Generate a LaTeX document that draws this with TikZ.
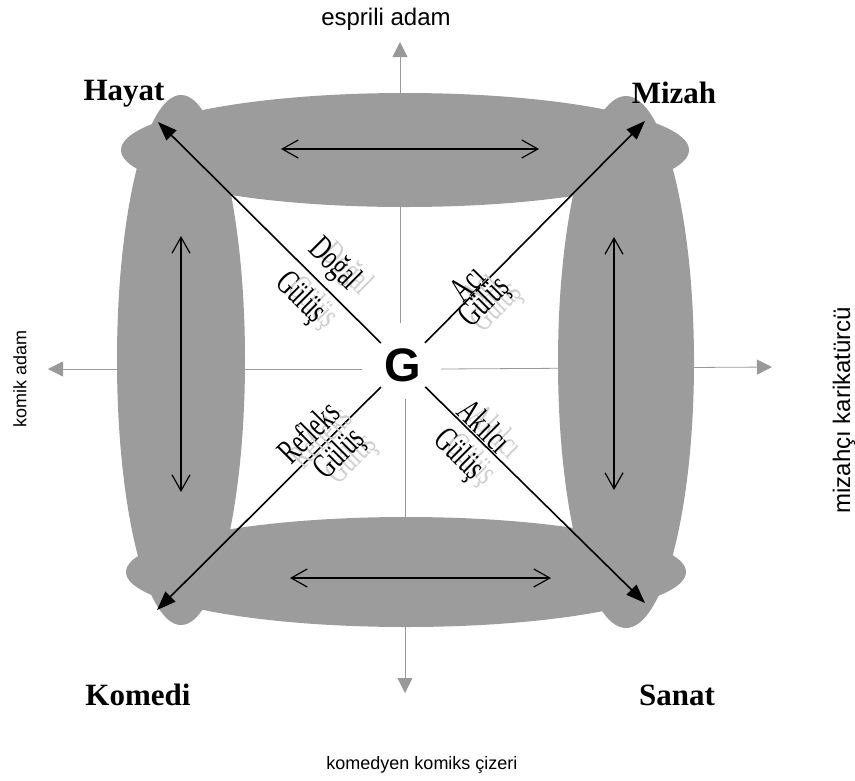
\documentclass[tikz,border=0pt]{standalone}
\usepackage{fontspec}
\usepackage{graphicx}
\setmainfont{Liberation Serif}
\setsansfont{Liberation Sans}
\usetikzlibrary{arrows.meta}
\definecolor{ellgray}{HTML}{9C9C9C}
\definecolor{axgray}{HTML}{999999}
\newcommand{\dlab}[1]{\scalebox{0.9}[1.35]{#1}}
\begin{document}
\begin{tikzpicture}[x=1pt,y=-1pt,
  blob/.style={fill=ellgray},
  axisline/.style={draw=axgray, line width=0.8pt, -{Triangle[length=15pt,width=15pt]}},
  diag/.style={line width=1.6pt, -{Triangle[length=19pt,width=14pt]}},
  dbl/.style={line width=1.2pt, {Straight Barb[length=16pt,width=18pt]}-{Straight Barb[length=16pt,width=18pt]}},
  axlabel/.style={font=\sffamily\fontsize{18}{18}\selectfont, inner sep=0pt},
  biglabel/.style={font=\sffamily\fontsize{24}{24}\selectfont, inner sep=0pt},
  corner/.style={font=\bfseries\fontsize{31}{31}\selectfont, inner sep=0pt},
  dtext/.style={font=\fontsize{26}{26}\selectfont, inner sep=0pt},
  ghost/.style={dtext, text=gray!38, xshift=12pt, yshift=-5pt}]
\useasboundingbox (0,0) rectangle (855,780);
% axes
\coordinate (aT) at (400,42);  \coordinate (aTe) at (400,323);
\coordinate (aB) at (405,693); \coordinate (aBe) at (405,399);
\coordinate (aL) at (48,369);  \coordinate (aLe) at (362,369);
\coordinate (aR) at (772,367); \coordinate (aRe) at (441,369);
\draw[axisline] (aTe) -- (aT);
\draw[axisline] (aBe) -- (aB);
\draw[axisline] (aLe) -- (aL);
\draw[axisline] (aRe) -- (aR);
% ellipses
\fill[blob] (405,150) ellipse [x radius=284pt, y radius=57pt];
\fill[blob] (406,572) ellipse [x radius=280pt, y radius=55pt];
\fill[blob] (181,360) ellipse [x radius=64pt, y radius=265pt];
\fill[blob] (626,362) ellipse [x radius=68pt, y radius=266pt];
% axis labels
\node[biglabel] (esp) at (386,19) {esprili adam};
\node[axlabel] (kom) at (422,765) {komedyen komiks çizeri};
\node[axlabel, rotate=90] (kad) at (20,379) {komik adam};
\node[biglabel, rotate=90] (miz) at (844,410) {mizahçı karikatürcü};
% centre
\node[font=\sffamily\bfseries\fontsize{47}{47}\selectfont, circle, minimum size=62pt, inner sep=0pt] (G) at (403,365) {G};
\coordinate (cHL) at (158,122);
\coordinate (cHR) at (645,121);
\coordinate (cBL) at (157,610);
\coordinate (cBR) at (645,603);
\draw[diag] (G) -- (cHL);
\draw[diag] (G) -- (cHR);
\draw[diag] (G) -- (cBL);
\draw[diag] (G) -- (cBR);
% double arrows
\coordinate (t1) at (281,149); \coordinate (t2) at (539,149);
\coordinate (b1) at (290,578); \coordinate (b2) at (551,578);
\coordinate (l1) at (181,236); \coordinate (l2) at (181,492);
\coordinate (r1) at (614,237); \coordinate (r2) at (614,490);
\draw[dbl] (t1) -- (t2);
\draw[dbl] (b1) -- (b2);
\draw[dbl] (l1) -- (l2);
\draw[dbl] (r1) -- (r2);
% corner labels
\node[corner] (hayat) at (124,94) {Hayat};
\node[corner] (mizah) at (674,93) {Mizah};
\node[corner] (komedi) at (138,695) {Komedi};
\node[corner] (sanat) at (677,695) {Sanat};
% diagonal labels: ghosts
\node[ghost, rotate=-45] (g1s) at (334,265) {\dlab{Doğal}};
\node[ghost, rotate=-45] (g2s) at (300,298) {\dlab{Gülüş}};
\node[ghost, rotate=45] (g3s) at (467,283) {\dlab{Acı}};
\node[ghost, rotate=45] (g4s) at (485,303) {\dlab{Gülüş}};
\node[ghost, rotate=45] (g5s) at (308,432) {\dlab{Refleks}};
\node[ghost, rotate=45] (g6s) at (340,455) {\dlab{Gülüş}};
\node[ghost, rotate=-45] (g7s) at (485,426) {\dlab{Akılcı}};
\node[ghost, rotate=-45] (g8s) at (458,455) {\dlab{Gülüş}};
% diagonal labels
\node[dtext, rotate=-45] (g1) at (334,265) {\dlab{Doğal}};
\node[dtext, rotate=-45] (g2) at (300,298) {\dlab{Gülüş}};
\node[dtext, rotate=45] (g3) at (467,283) {\dlab{Acı}};
\node[dtext, rotate=45] (g4) at (485,303) {\dlab{Gülüş}};
\node[dtext, rotate=45] (g5) at (308,432) {\dlab{Refleks}};
\node[dtext, rotate=45] (g6) at (340,455) {\dlab{Gülüş}};
\node[dtext, rotate=-45] (g7) at (485,426) {\dlab{Akılcı}};
\node[dtext, rotate=-45] (g8) at (458,455) {\dlab{Gülüş}};
\end{tikzpicture}
\end{document}
